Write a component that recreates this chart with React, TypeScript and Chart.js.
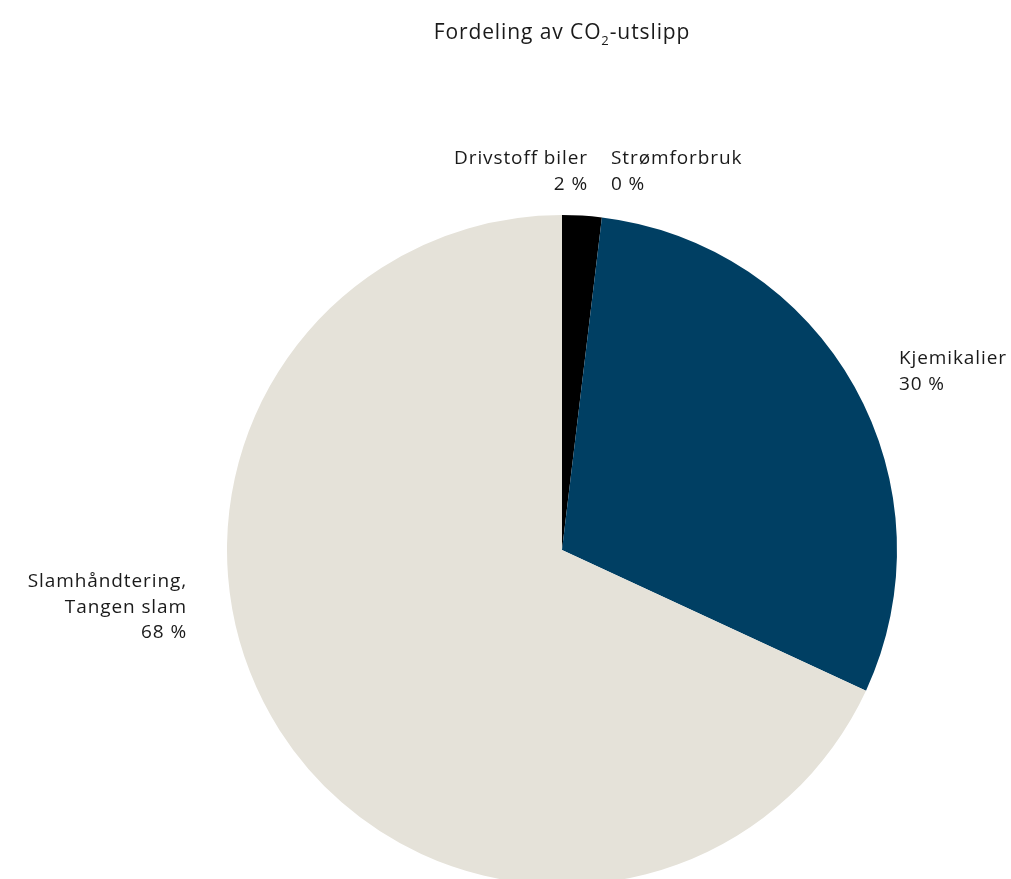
import React, { useEffect, useRef } from "react";
import { Chart, registerables } from "chart.js";

Chart.register(...registerables);

const categories = ["Drivstoff biler", "Strømforbruk", "Kjemikalier", "Slamhåndtering, Tangen slam"];
const values = [1.9, 0, 30.0, 68.1];
const percentLabels = ["2 %", "0 %", "30 %", "68 %"];
const colors = ["#000000", "#1a1a1a", "#003f63", "#e5e2d9"];

// label layout: anchor offset from pie centre, alignment
const labelLayout = [
  { dx: 26, dy: -391, align: "right" },
  { dx: 49, dy: -391, align: "left" },
  { dx: 337, dy: -191, align: "left" },
  { dx: -375, dy: 32, align: "right" },
];
const labelLines = [
  ["Drivstoff biler"],
  ["Strømforbruk"],
  ["Kjemikalier"],
  ["Slamhåndtering,", "Tangen slam"],
];

const FONT = "'Open Sans', 'Noto Sans', sans-serif";

const textPlugin = {
  id: "textPlugin",
  afterDraw(chart: any) {
    const ctx = chart.ctx;
    const meta = chart.getDatasetMeta(0);
    const arc = meta.data[0];
    const cx = arc.x;
    const cy = arc.y;
    ctx.save();
    ctx.fillStyle = "#1a1a1a";
    ctx.textBaseline = "middle";
    ctx.letterSpacing = "0.9px";
    // title
    const tFont = `400 21px ${FONT}`;
    const sFont = `400 13px ${FONT}`;
    const p1 = "Fordeling av CO";
    const p2 = "2";
    const p3 = "-utslipp";
    ctx.font = tFont;
    const w1 = ctx.measureText(p1).width;
    const w3 = ctx.measureText(p3).width;
    ctx.font = sFont;
    const w2 = ctx.measureText(p2).width;
    const total = w1 + w2 + w3;
    let x = cx - total / 2;
    const ty = 33;
    ctx.textAlign = "left";
    ctx.font = tFont;
    ctx.fillText(p1, x, ty);
    x += w1;
    ctx.font = sFont;
    ctx.fillText(p2, x, ty + 8);
    x += w2;
    ctx.font = tFont;
    ctx.fillText(p3, x, ty);
    // labels
    ctx.font = `400 19px ${FONT}`;
    labelLayout.forEach((l, k) => {
      ctx.textAlign = l.align;
      const lines = [...labelLines[k], percentLabels[k]];
      lines.forEach((line, i) => {
        ctx.fillText(line, cx + l.dx, cy + l.dy + i * 25.5);
      });
    });
    ctx.restore();
  },
};

export default function App() {
  const ref = useRef<HTMLCanvasElement>(null);
  useEffect(() => {
    if (!ref.current) return;
    const chart = new Chart(ref.current, {
      type: "pie",
      data: {
        labels: categories,
        datasets: [
          {
            data: values,
            backgroundColor: colors,
            borderWidth: 0,
          },
        ],
      },
      options: {
        responsive: false,
        animation: false,
        layout: { padding: { top: 215, bottom: 15, left: 227, right: 114 } },
        plugins: {
          legend: { display: false },
          tooltip: { enabled: false },
          title: { display: false },
        },
      },
      plugins: [textPlugin],
    });
    return () => chart.destroy();
  }, []);
  return (
    <div style={{ position: "fixed", top: 0, left: 0, width: 1011, height: 879, overflow: "hidden", background: "#fff" }}>
      <canvas ref={ref} width={1011} height={900} style={{ display: "block" }} />
    </div>
  );
}
